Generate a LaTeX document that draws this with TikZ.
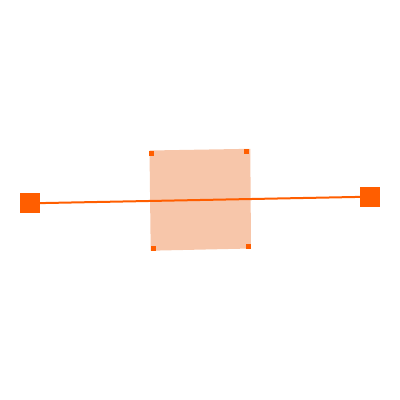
\documentclass[tikz,border=0pt]{standalone}
\definecolor{accent}{RGB}{255,94,0}
\definecolor{lightfill}{RGB}{247,198,170}
\tikzset{
  bigmark/.style={fill=accent, draw=none, minimum size=20pt, inner sep=0pt, outer sep=0pt, shape=rectangle},
  smallmark/.style={fill=accent, draw=none, minimum size=5pt, inner sep=0pt, outer sep=0pt, shape=rectangle},
}
\begin{document}
\begin{tikzpicture}[x=1pt,y=-1pt]
\useasboundingbox (0,0) rectangle (400,400);
\fill[lightfill] (149.5,150.5) -- (250.3,148.8) -- (251,248.5) -- (150.7,250.7) -- cycle;
\node[smallmark] (tl) at (151.7,153.3) {};
\node[smallmark] (tr) at (246.7,151.3) {};
\node[smallmark] (bl) at (153.3,248.3) {};
\node[smallmark] (br) at (248.3,246.7) {};
\node[bigmark] (a) at (30,203.3) {};
\node[bigmark] (b) at (370,196.7) {};
\draw[accent, line width=2pt] (a.center) -- (b.center);
\end{tikzpicture}
\end{document}
